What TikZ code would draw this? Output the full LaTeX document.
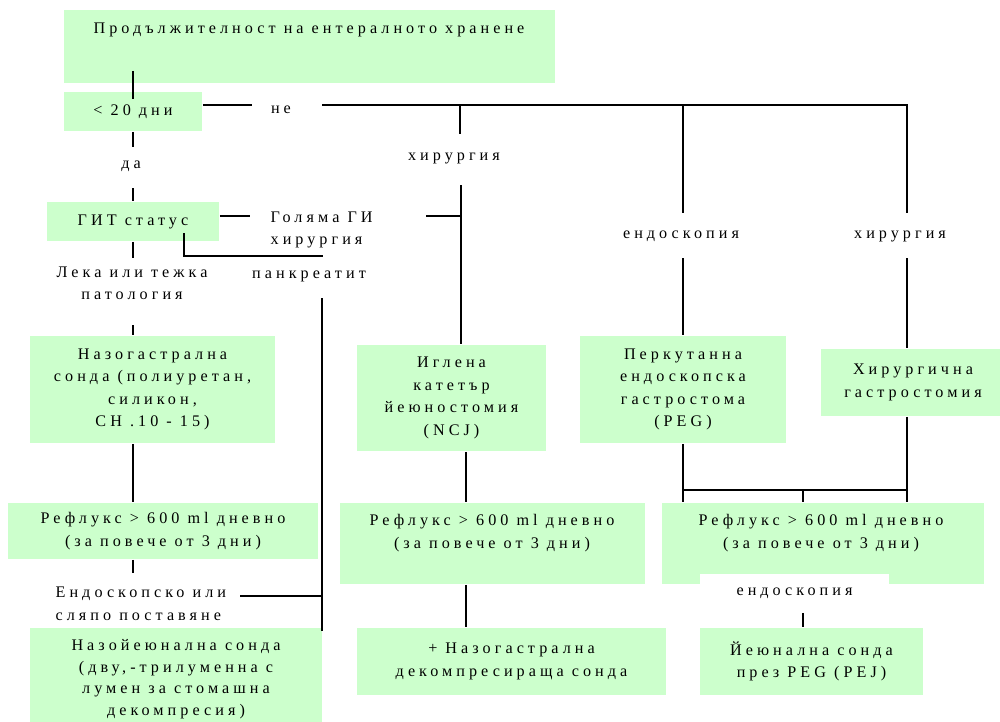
\documentclass[tikz,border=0pt]{standalone}
\usepackage{fontspec}
\setmainfont{Liberation Serif}[LetterSpace=25]
\usepackage{tikz}
\usetikzlibrary{calc}

\definecolor{boxgreen}{RGB}{204,255,204}

\tikzset{
	box/.style={fill=boxgreen, inner sep=0pt, align=center},
	lbl/.style={inner sep=1pt, align=center},
}

\begin{document}
\begin{tikzpicture}[x=0.02cm, y=-0.02cm, line width=1pt, font=\fontsize{9.2}{12.8}\selectfont]
		
		\useasboundingbox (0,0) rectangle (1000,721);
		
		% boxes
		\node[box, minimum width=9.82cm, minimum height=1.46cm] (top) at (309.5,46.5) {};
		\node[lbl] (toptxt) at (309,30) {Продължителност на ентералното хранене};
		\node[box, minimum width=2.76cm, minimum height=0.78cm] (lt20) at (133,111.5) {< 20 дни};
		\node[box, minimum width=3.44cm, minimum height=0.78cm] (git) at (133,221.5) {ГИТ статус};
		\node[box, minimum width=4.9cm, minimum height=2.14cm] (ng) at (152.5,389.5) {Назогастрална\\сонда (полиуретан,\\силикон,\\CH .10 - 15)};
		\node[box, minimum width=6.2cm, minimum height=1.12cm] (reflA) at (163,531) {Рефлукс > 600 ml дневно\\(за повече от 3 дни)};
		\node[box, minimum width=5.84cm, minimum height=2.24cm] (nj) at (176,684) {};
		\node[lbl, font=\fontsize{9.2}{12.3}\selectfont] (njtxt) at (176,679) {Назойеюнална сонда\\(дву,-трилуменна с\\лумен за стомашна\\декомпресия)};
		\node[box, minimum width=3.78cm, minimum height=2.12cm] (ncj) at (451.5,398) {Иглена\\катетър\\йеюностомия\\(NCJ)};
		\node[box, minimum width=6.1cm, minimum height=1.62cm] (reflB) at (492.5,543.5) {};
		\node[lbl] (reflBtxt) at (492,533) {Рефлукс > 600 ml дневно\\(за повече от 3 дни)};
		\node[box, minimum width=6.18cm, minimum height=1.34cm] (ngd) at (511.5,661.5) {+ Назогастрална\\декомпресираща сонда};
		\node[box, minimum width=4.12cm, minimum height=2.14cm] (peg) at (683,389.5) {Перкутанна\\ендоскопска\\гастростома\\(PEG)};
		\node[box, minimum width=3.68cm, minimum height=1.34cm] (sg) at (913,382.5) {Хирургична\\гастростомия};
		\node[box, minimum width=6.44cm, minimum height=1.62cm] (reflC) at (823,543.5) {};
		\node[lbl] (reflCtxt) at (821,533) {Рефлукс > 600 ml дневно\\(за повече от 3 дни)};
		\node[box, minimum width=4.46cm, minimum height=1.34cm] (pej) at (811.5,661.5) {Йеюнална сонда\\през PEG (PEJ)};
		
		% labels
		\node[lbl] (ne) at (281,110) {не};
		\node[lbl] (da) at (131,166) {да};
		\node[lbl] (surgAtxt) at (454,158) {хирургия};
		\node[lbl, align=left, anchor=west] (bigGItxt) at (268,230) {Голяма ГИ\\хирургия};
		\node[lbl] (leka) at (132,283.5) {Лека или тежка\\патология};
		\node[lbl] (panc) at (309,276) {панкреатит};
		\node[lbl] (endoAtxt) at (681,236) {ендоскопия};
		\node[lbl] (surgBtxt) at (900,236) {хирургия};
		\node[lbl, align=left, anchor=west] (endp) at (53,604) {Ендоскопско или\\сляпо поставяне};
		\node[lbl, fill=white, inner sep=0pt, minimum width=3.78cm, minimum height=0.76cm] (endo2) at (794.5,593) {ендоскопия};
		
		% free ends and junctions
		\coordinate (noL) at (252,105);
		\coordinate (noR) at (322,105);
		\coordinate (busE) at (907,105);
		\coordinate (daT) at (133,147);
		\coordinate (daB) at (133,188);
		\coordinate (surgA) at (460,134);
		\coordinate (surgA2) at (461,185);
		\coordinate (endoA) at (683,213);
		\coordinate (endoA2) at (683,258);
		\coordinate (surgB) at (907,213);
		\coordinate (surgB2) at (907,258);
		\coordinate (gitR) at (250,216);
		\coordinate (bigGI) at (426,216);
		\coordinate (gitIn) at (184,233);
		\coordinate (pancL) at (323,256);
		\coordinate (pancB) at (322,298);
		\coordinate (lekaT) at (133,258);
		\coordinate (lekaB) at (133,325);
		\coordinate (endT) at (133,573);
		\coordinate (endR) at (240,596);
		\coordinate (colB) at (466,470);
		\coordinate (busC) at (803,490);
		
		% connectors
		\draw[shorten <=-0.26cm, shorten >=-0.16cm] (top.south -| lt20.north) -- (lt20.north);
		\draw (lt20.south) -- (daT);
		\draw (daB) -- (git.north);
		\draw (lt20.east |- noL) -- (noL);
		\draw (noR) -- (busE) -- (surgB);
		\draw (surgA |- noR) -- (surgA);
		\draw (endoA |- noR) -- (endoA);
		\draw (surgA2) -- (surgA2 |- ncj.north);
		\draw (bigGI) -- (bigGI -| surgA2);
		\draw (git.east |- gitR) -- (gitR);
		\draw (gitIn) |- (pancL);
		\draw (git.south) -- (lekaT);
		\draw (lekaB) -- (lekaB |- ng.north);
		\draw (lekaB |- ng.south) -- (lekaB |- reflA.north);
		\draw (reflA.south -| lekaB) -- (endT);
		\draw[shorten >=-0.08cm] (pancB) -- (pancB |- nj.north);
		\draw (endR) -- (endR -| pancB);
		\draw (ncj.south -| colB) -- (reflB.north -| colB);
		\draw (reflB.south -| colB) -- (ngd.north -| colB);
		\draw (endoA2) -- (peg.north);
		\draw (surgB2) -- (surgB2 |- sg.north);
		\draw (peg.south) -- (peg.south |- reflC.north);
		\draw (sg.south -| surgB2) -- (surgB2 |- reflC.north);
		\draw (peg.south |- busC) -- (surgB2 |- busC);
		\draw (busC) -- (busC |- reflC.north);
		\draw (endo2.south -| busC) -- (pej.north -| busC);
	\end{tikzpicture}
\end{document}
